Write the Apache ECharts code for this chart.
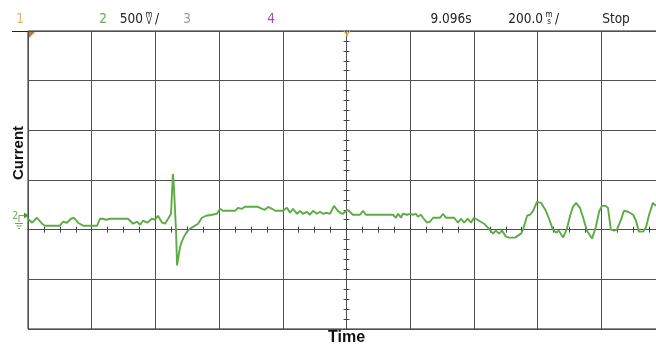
<!DOCTYPE html>
<html><head><meta charset="utf-8">
<script src="https://cdn.jsdelivr.net/npm/echarts@6/dist/echarts.min.js"></script>
<style>html,body{margin:0;padding:0;background:#fff}#c{width:656px;height:345px}</style>
</head><body><div id="c"></div>
<script>
// time relative to trigger (ms), 200 ms/div
const timeMs = [
  -1000,-987,-972,-956,-947,-900,-890,-878,-865,-856,
  -843,-827,-783,-774,-765,-755,-743,-686,-670,-658,
  -648,-639,-626,-611,-601,-592,-579,-570,-560,-551,
  -545,-542,-535,-532,-523,-516,-510,-501,-491,-476,
  -466,-454,-451,-441,-435,-422,-419,-407,-397,-388,
  -350,-341,-328,-319,-278,-265,-256,-246,-234,-224,
  -199,-187,-177,-168,-155,-146,-137,-124,-115,-105,
  -93,-83,-74,-61,-52,-39,-30,-20,-11,2,
  11,20,42,52,61,146,155,162,171,177,
  190,199,209,218,224,234,240,253,262,272,
  294,303,312,338,350,360,369,381,391,400,
  416,432,447,460,469,479,488,501,510,529,
  548,554,567,576,586,598,611,626,636,648,
  658,667,680,692,702,711,721,733,743,755,
  771,783,793,802,812,821,830,840,849,862,
  871,884,900,909,918,931,940,950,962,972
];
// channel 2 value (V), 500 mV/div
const currentV = [
  0.11,0.07,0.12,0.06,0.04,0.04,0.08,0.07,0.11,0.12,
  0.07,0.04,0.04,0.11,0.11,0.10,0.11,0.11,0.06,0.08,
  0.05,0.09,0.07,0.11,0.10,0.14,0.07,0.06,0.11,0.16,
  0.56,0.44,-0.03,-0.36,-0.18,-0.11,-0.07,-0.02,0.01,0.04,
  0.06,0.12,0.14,0.14,0.16,0.15,0.17,0.16,0.21,0.19,
  0.19,0.22,0.21,0.23,0.23,0.21,0.20,0.23,0.21,0.19,
  0.19,0.22,0.17,0.21,0.16,0.19,0.16,0.18,0.15,0.19,
  0.16,0.18,0.16,0.17,0.16,0.24,0.20,0.17,0.16,0.20,
  0.18,0.15,0.15,0.19,0.15,0.15,0.12,0.16,0.12,0.16,
  0.15,0.16,0.15,0.16,0.13,0.15,0.12,0.07,0.08,0.12,
  0.12,0.16,0.12,0.12,0.07,0.11,0.07,0.11,0.07,0.12,
  0.09,0.06,0.01,-0.04,-0.01,-0.04,-0.01,-0.07,-0.08,-0.08,
  -0.04,0.00,0.14,0.15,0.19,0.28,0.27,0.19,0.11,0.00,
  -0.03,-0.01,-0.08,0.01,0.14,0.23,0.27,0.22,0.12,-0.01,
  -0.09,0.03,0.18,0.24,0.24,0.22,0.00,-0.01,0.00,0.10,
  0.19,0.18,0.15,0.09,-0.02,-0.02,0.02,0.15,0.27,0.24
];
const xRange = [-1000, 1000];
const xDiv = 200;
const xMinorTick = 50;
const yRange = [-1, 2];
const yDiv = 0.5;
const yMinorTick = 0.1;
const headerTexts = ['1', '2', '500', '3', '4', '9.096s', '200.0', 'Stop'];
const axisNames = ['Time', 'Current'];

const narrow = "'DejaVu Sans Condensed','DejaVu Sans',sans-serif";
const hdr = '13.5px ' + narrow;
const unit = '8px ' + narrow;
const bold = "bold 15px 'Liberation Sans',Arial,sans-serif";
const gridCol = '#505050';
const tickCol = '#444';
const green = '#5dab45';

function tickX(inside) {
  return {
    type: 'value', min: xRange[0], max: xRange[1], interval: xMinorTick, position: 'bottom',
    axisLine: { show: true, onZero: true, onZeroAxisIndex: 0, lineStyle: { color: gridCol, width: 1 } },
    axisTick: { show: true, inside: inside, length: 3, lineStyle: { color: tickCol } },
    axisLabel: { show: false }, splitLine: { show: false }
  };
}
function tickY(inside) {
  return {
    type: 'value', min: yRange[0], max: yRange[1], interval: yMinorTick, position: 'left',
    axisLine: { show: true, onZero: true, onZeroAxisIndex: 0, lineStyle: { color: gridCol, width: 1 } },
    axisTick: { show: true, inside: inside, length: 3, lineStyle: { color: tickCol } },
    axisLabel: { show: false }, splitLine: { show: false }
  };
}

const chart = echarts.init(document.getElementById('c'), null, { renderer: 'canvas' });
chart.setOption({
  animation: false,
  backgroundColor: '#fff',
  grid: { left: 28, top: 31, width: 637, height: 298, containLabel: false, outerBoundsMode: 'none',
          show: true, borderColor: '#222', borderWidth: 1, backgroundColor: 'transparent' },
  xAxis: [
    {
      type: 'value', min: xRange[0], max: xRange[1], interval: xDiv, position: 'bottom',
      name: axisNames[0], nameLocation: 'middle', nameGap: 1,
      nameTextStyle: { fontFamily: "'Liberation Sans',Arial,sans-serif", fontWeight: 'bold', fontSize: 16, color: '#111', padding: [0, 0, 0, 0] },
      axisLine: { show: false, onZero: false }, axisTick: { show: false }, axisLabel: { show: false },
      splitLine: { show: true, lineStyle: { color: gridCol, width: 1 } }
    },
    tickX(false), tickX(true)
  ],
  yAxis: [
    {
      type: 'value', min: yRange[0], max: yRange[1], interval: yDiv,
      axisLine: { show: false, onZero: false }, axisTick: { show: false }, axisLabel: { show: false },
      splitLine: { show: true, lineStyle: { color: gridCol, width: 1 } }
    },
    tickY(false), tickY(true)
  ],
  series: [{
    type: 'line', xAxisIndex: 0, yAxisIndex: 0, showSymbol: false, symbol: 'none',
    data: timeMs.map((t, i) => [t, currentV[i]]),
    lineStyle: { color: green, width: 1.9 }, z: 10
  }],
  graphic: [
    { type: 'line', shape: { x1: 12, y1: 31.5, x2: 28, y2: 31.5 }, style: { stroke: '#222', lineWidth: 1 } },
    { type: 'text', style: { text: headerTexts[0], x: 20, y: 19, fill: '#eeb070', font: hdr, align: 'center', verticalAlign: 'middle' } },
    { type: 'text', style: { text: headerTexts[1], x: 103, y: 19, fill: '#6aa84f', font: hdr, align: 'center', verticalAlign: 'middle' } },
    { type: 'text', style: { text: headerTexts[2], x: 143, y: 19, fill: '#222', font: hdr, align: 'right', verticalAlign: 'middle' } },
    { type: 'text', style: { text: 'm', x: 149, y: 15, fill: '#222', font: unit, align: 'center', verticalAlign: 'middle' } },
    { type: 'text', style: { text: 'V', x: 149, y: 22, fill: '#222', font: unit, align: 'center', verticalAlign: 'middle' } },
    { type: 'text', style: { text: '/', x: 157, y: 19, fill: '#222', font: hdr, align: 'center', verticalAlign: 'middle' } },
    { type: 'text', style: { text: headerTexts[3], x: 187, y: 19, fill: '#9a9a9a', font: hdr, align: 'center', verticalAlign: 'middle' } },
    { type: 'text', style: { text: headerTexts[4], x: 271, y: 19, fill: '#a050a8', font: hdr, align: 'center', verticalAlign: 'middle' } },
    { type: 'text', style: { text: headerTexts[5], x: 451, y: 19, fill: '#222', font: hdr, align: 'center', verticalAlign: 'middle' } },
    { type: 'text', style: { text: headerTexts[6], x: 543, y: 19, fill: '#222', font: hdr, align: 'right', verticalAlign: 'middle' } },
    { type: 'text', style: { text: 'm', x: 549, y: 15, fill: '#222', font: unit, align: 'center', verticalAlign: 'middle' } },
    { type: 'text', style: { text: 's', x: 549, y: 22, fill: '#222', font: unit, align: 'center', verticalAlign: 'middle' } },
    { type: 'text', style: { text: '/', x: 557, y: 19, fill: '#222', font: hdr, align: 'center', verticalAlign: 'middle' } },
    { type: 'text', style: { text: headerTexts[7], x: 616, y: 19, fill: '#222', font: hdr, align: 'center', verticalAlign: 'middle' } },
    { type: 'text', x: 19, y: 153, rotation: Math.PI / 2, style: { text: axisNames[1], x: 0, y: 0, fill: '#111', font: bold, align: 'center', verticalAlign: 'middle' } },
    { type: 'polygon', shape: { points: [[29, 32], [35, 32], [29, 38]] }, style: { fill: '#c8783a' }, z: 20 },
    { type: 'polyline', shape: { points: [[344, 31], [347, 35], [350, 31]] }, style: { stroke: '#e0a040', lineWidth: 1.2, fill: null }, z: 20 },
    { type: 'line', shape: { x1: 347, y1: 31, x2: 347, y2: 37 }, style: { stroke: '#e0a040', lineWidth: 1 }, z: 20 },
    { type: 'text', style: { text: '2', x: 15, y: 216, fill: '#6aa84f', font: '10px ' + narrow, align: 'center', verticalAlign: 'middle' } },
    { type: 'polyline', shape: { points: [[19, 222], [19, 215.5], [24, 215.5]] }, style: { stroke: '#6aa84f', lineWidth: 1, fill: null } },
    { type: 'polygon', shape: { points: [[24, 212.5], [29, 215.5], [24, 218.5]] }, style: { fill: '#4f9a3a' } },
    { type: 'line', shape: { x1: 15, y1: 223.5, x2: 23, y2: 223.5 }, style: { stroke: '#6aa84f', lineWidth: 1 } },
    { type: 'line', shape: { x1: 16.5, y1: 226, x2: 21.5, y2: 226 }, style: { stroke: '#6aa84f', lineWidth: 1 } },
    { type: 'line', shape: { x1: 18, y1: 228.5, x2: 20, y2: 228.5 }, style: { stroke: '#6aa84f', lineWidth: 1 } }
  ]
});
</script>
</body></html>
